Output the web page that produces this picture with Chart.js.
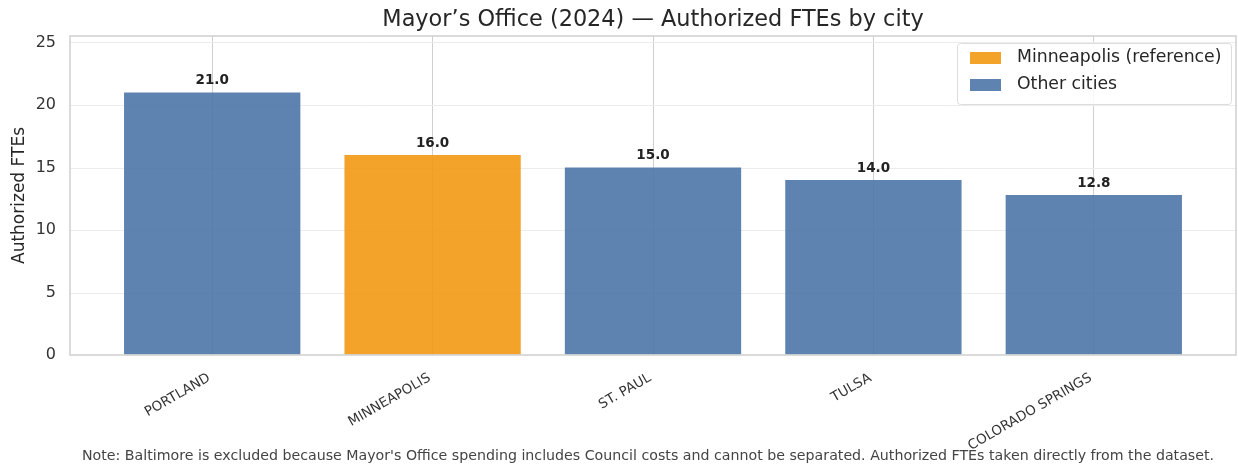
<!DOCTYPE html>
<html>
<head>
<meta charset="utf-8">
<script src="https://cdn.jsdelivr.net/npm/chart.js@4.4.1/dist/chart.umd.min.js"></script>
<style>
  html, body { margin: 0; padding: 0; background: #fff; }
  #wrap { width: 1238px; height: 466px; }
</style>
</head>
<body>
<div id="wrap"><canvas id="chart"></canvas></div>
<script>
// ===== DATA =====
const cities = ['PORTLAND', 'MINNEAPOLIS', 'ST. PAUL', 'TULSA', 'COLORADO SPRINGS'];
const ftes = [21.0, 16.0, 15.0, 14.0, 12.8];
const referenceCity = 'MINNEAPOLIS';
const legendLabels = ['Minneapolis (reference)', 'Other cities'];
const yTicks = [0, 5, 10, 15, 20, 25];
const chartTitle = 'Mayor’s Office (2024) — Authorized FTEs by city';
const footNote = "Note: Baltimore is excluded because Mayor's Office spending includes Council costs and cannot be separated. Authorized FTEs taken directly from the dataset.";

const REF_COLOR = 'rgba(242,153,18,0.9)';
const OTHER_COLOR = 'rgba(76,118,168,0.9)';
const FONT = "'DejaVu Sans', sans-serif";
const FRAME_PAD = 32; // axes frame sticks out past the outer bars

const barColors = cities.map(c => c === referenceCity ? REF_COLOR : OTHER_COLOR);

// gridlines + frame that span the full axes box, not only the bar area
const framePlugin = {
  id: 'frame',
  beforeDatasetsDraw(chart) {
    const { ctx, chartArea: a, scales: { y } } = chart;
    const l = a.left - FRAME_PAD, r = a.right + FRAME_PAD;
    ctx.save();
    ctx.strokeStyle = '#ececec';
    ctx.lineWidth = 1;
    yTicks.forEach(v => {
      if (v === 0) return;
      const py = Math.round(y.getPixelForValue(v)) + 0.5;
      ctx.beginPath(); ctx.moveTo(l, py); ctx.lineTo(r, py); ctx.stroke();
    });
    ctx.restore();
  },
  afterDatasetsDraw(chart) {
    const { ctx, chartArea: a } = chart;
    const meta = chart.getDatasetMeta(0);
    ctx.save();
    // value labels
    ctx.fillStyle = '#222';
    ctx.font = `bold 13.5px ${FONT}`;
    ctx.textAlign = 'center';
    ctx.textBaseline = 'bottom';
    meta.data.forEach((bar, i) => ctx.fillText(ftes[i].toFixed(1), bar.x, bar.y - 5));
    // frame
    ctx.strokeStyle = '#cfcfcf';
    ctx.lineWidth = 1.5;
    ctx.strokeRect(a.left - FRAME_PAD, a.top, a.width + 2 * FRAME_PAD, a.height);
    ctx.restore();
  },
  afterDraw(chart) {
    const { ctx, chartArea: a } = chart;
    const frameMid = (a.left + a.right) / 2;
    ctx.save();
    // title
    ctx.fillStyle = '#262626';
    ctx.font = `22.4px ${FONT}`;
    ctx.textAlign = 'center';
    ctx.textBaseline = 'middle';
    ctx.fillText(chartTitle, frameMid, 20);
    // note
    ctx.fillStyle = '#444';
    ctx.font = `14.2px ${FONT}`;
    ctx.fillText(footNote, 648, 456);
    // legend
    const bx = 957, by = 43, bw = 274, bh = 61;
    ctx.fillStyle = 'rgba(255,255,255,0.85)';
    ctx.strokeStyle = '#dddddd';
    ctx.lineWidth = 1;
    ctx.beginPath();
    ctx.roundRect(bx + 0.5, by + 0.5, bw, bh, 3);
    ctx.fill(); ctx.stroke();
    const swatches = [REF_COLOR, OTHER_COLOR];
    ctx.font = `17.3px ${FONT}`;
    ctx.textAlign = 'left';
    legendLabels.forEach((lab, i) => {
      const cy = 58 + i * 27;
      ctx.fillStyle = swatches[i];
      ctx.fillRect(970, cy - 6, 31, 12);
      ctx.fillStyle = '#262626';
      ctx.fillText(lab, 1017, cy);
    });
    ctx.restore();
  }
};

new Chart(document.getElementById('chart'), {
  type: 'bar',
  data: {
    labels: cities,
    datasets: [{
      data: ftes,
      backgroundColor: barColors,
      borderWidth: 0,
      barPercentage: 0.8,
      categoryPercentage: 1.0
    }]
  },
  options: {
    responsive: true,
    maintainAspectRatio: false,
    animation: false,
    layout: { padding: { top: 36, right: 34, left: 0, bottom: 0 } },
    plugins: { legend: { display: false }, title: { display: false }, tooltip: { enabled: false } },
    scales: {
      x: {
        grid: { offset: false, color: '#cfcfcf', lineWidth: 1, drawTicks: false },
        border: { display: false },
        ticks: { color: '#333', font: { family: FONT, size: 13.5 }, maxRotation: 30, minRotation: 30, padding: 15, labelOffset: -3 },
        afterFit: s => { s.height = 111; }
      },
      y: {
        min: 0,
        max: 25.52,
        // invisible tick marks push the labels out past the frame
        grid: { color: 'rgba(0,0,0,0)', drawOnChartArea: false, drawTicks: true, tickLength: 40 },
        border: { display: false },
        afterBuildTicks: s => { s.ticks = yTicks.map(v => ({ value: v })); },
        ticks: { color: '#333', font: { family: FONT, size: 16 }, padding: 6 },
        title: { display: true, text: 'Authorized FTEs', color: '#262626', font: { family: FONT, size: 17 }, padding: { top: 9, bottom: 0 } },
        afterFit: s => { s.width = 102; }
      }
    }
  },
  plugins: [framePlugin]
});
</script>
</body>
</html>
